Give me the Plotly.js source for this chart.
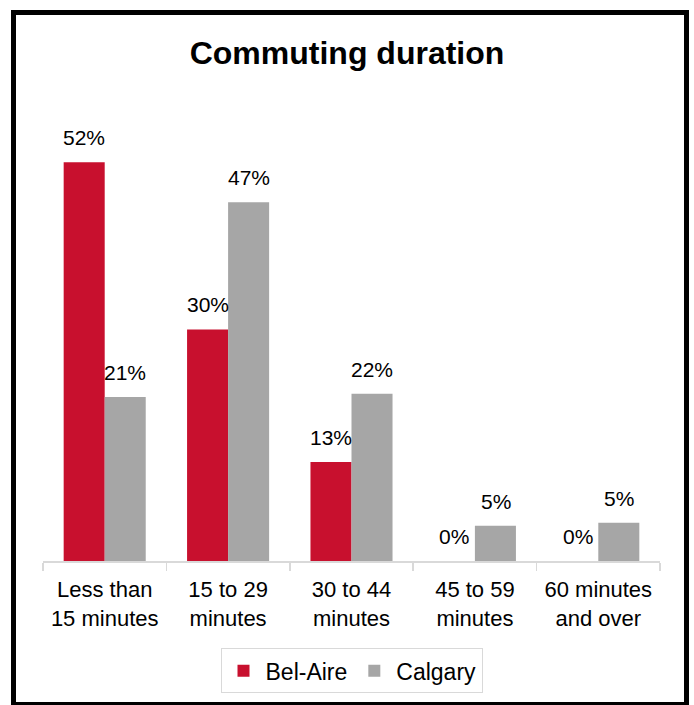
<!DOCTYPE html>
<html>
<head>
<meta charset="utf-8">
<script src="https://cdn.plot.ly/plotly-3.0.1.min.js"></script>
<style>
html,body{margin:0;padding:0;background:#fff;}
#wrap{position:relative;width:694px;height:705px;}
#chart{position:absolute;left:0;top:0;width:694px;height:705px;}
#frame{position:absolute;left:11px;top:10px;width:668px;height:687px;border:5px solid #000;border-bottom-width:3px;pointer-events:none;}
</style>
</head>
<body>
<div id="wrap"><div id="chart"></div><div id="frame"></div></div>
<script>
const categories = ["Less than<br>15 minutes", "15 to 29<br>minutes", "30 to 44<br>minutes", "45 to 59<br>minutes", "60 minutes<br>and over"];
const belAire = [52.0, 30.2, 12.9, 0, 0];
const calgary = [21.4, 46.8, 21.8, 4.6, 5.0];
const seriesNames = ["Bel-Aire", "Calgary"];
const fmt = v => Math.round(v) + "%";

const FONT = "Liberation Sans, Arial, sans-serif";
const data = [
  {type: "bar", name: seriesNames[0], x: categories, y: belAire, marker: {color: "#C8102E"}, hoverinfo: "skip"},
  {type: "bar", name: seriesNames[1], x: categories, y: calgary, marker: {color: "#A6A6A6"}, hoverinfo: "skip"}
];

// data labels via annotations anchored on the same axes
const halfBar = 20.6; // px offset of each bar centre within its group
const annotations = [];
[belAire, calgary].forEach((vals, s) => {
  vals.forEach((v, i) => {
    annotations.push({
      x: categories[i], y: v, xref: "x", yref: "y",
      text: fmt(v), showarrow: false,
      xshift: s === 0 ? -halfBar : halfBar,
      yanchor: "bottom", yshift: 11,
      font: {family: FONT, size: 21, color: "#000"}
    });
  });
});

const layout = {
  width: 694, height: 705,
  margin: {l: 43, r: 34, t: 101, b: 144},
  paper_bgcolor: "#fff", plot_bgcolor: "#fff",
  font: {family: FONT, color: "#000"},
  title: {text: "<b>Commuting duration</b>", font: {size: 32, color: "#000"}, x: 0.5, xanchor: "center", y: 0.925, yanchor: "middle"},
  barmode: "group",
  bargap: 0.335,
  bargroupgap: 0,
  showlegend: true,
  legend: {orientation: "h", x: 0.5, xanchor: "center", y: -0.19, yanchor: "top",
           bordercolor: "#d9d9d9", borderwidth: 1, font: {size: 23}, itemwidth: 34, traceorder: "normal"},
  xaxis: {showline: true, linecolor: "#d9d9d9", linewidth: 1.5, ticks: "outside", tickson: "boundaries",
          ticklen: 8, tickcolor: "#d9d9d9", tickwidth: 1.5, tickfont: {size: 22, color: "#000"},
          ticklabelstandoff: 8, fixedrange: true},
  yaxis: {range: [0, 60], visible: false, showgrid: false, zeroline: false, fixedrange: true},
  annotations: annotations
};
Plotly.newPlot("chart", data, layout, {displayModeBar: false, staticPlot: true});
</script>
</body>
</html>
